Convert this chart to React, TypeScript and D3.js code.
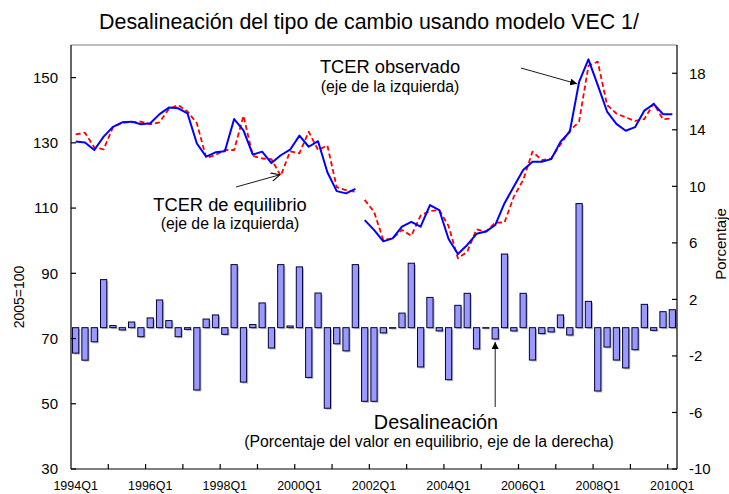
import React, { useEffect, useRef } from "react";
import * as d3 from "d3";

// quarters 1994Q1 .. 2010Q1
const quarters: string[] = d3
  .range(1994, 2011)
  .flatMap((y) => [1, 2, 3, 4].map((q) => `${y}Q${q}`))
  .slice(0, 65);

// TCER observado (left axis, 2005=100)
const observado = [
  130.4, 130.1, 127.8, 131.9, 134.9, 136.3, 136.5, 135.7, 136.0, 138.8,
  140.8, 140.6, 139.0, 129.8, 125.8, 127.1, 127.4, 137.3, 133.8, 126.4,
  127.3, 123.8, 126.2, 127.9, 132.2, 128.8, 130.5, 121.0, 115.2, 114.5,
  115.9, 106.3, 103.3, 99.8, 100.7, 104.3, 105.8, 104.3, 110.9, 109.4,
  100.5, 95.9, 98.7, 102.1, 102.8, 104.8, 111.5, 116.6, 121.7, 124.2,
  124.2, 125.0, 130.3, 133.4, 148.7, 155.6, 147.7, 139.6, 135.8, 133.7,
  134.8, 139.9, 141.9, 138.8, 138.8,
];

// TCER de equilibrio (left axis)
const equilibrio = [
  132.6, 133.1, 128.6, 128.0, 134.8, 136.2, 136.3, 136.5, 135.7, 136.3,
  140.4, 141.6, 139.6, 136.0, 125.4, 126.3, 127.8, 127.8, 138.3, 126.0,
  125.2, 125.0, 119.9, 127.4, 126.8, 133.4, 127.8, 129.2, 116.4, 115.5,
  115.0, 112.5, 108.9, 100.2, 100.7, 103.3, 101.5, 107.7, 109.1, 109.4,
  104.5, 94.6, 96.6, 103.5, 102.8, 105.5, 105.6, 113.5, 118.6, 127.3,
  124.7, 125.2, 129.5, 133.7, 136.5, 153.6, 154.9, 141.6, 139.0, 137.8,
  136.7, 137.3, 142.1, 137.2, 137.5,
];

// Desalineación (right axis, %)
const desalineacion = [
  -1.8, -2.3, -1.0, 3.4, 0.15, -0.16, 0.4, -0.64, 0.69, 1.96,
  0.5, -0.64, -0.12, -4.41, 0.61, 0.9, -0.47, 4.46, -3.85, 0.22,
  1.75, -1.44, 4.46, 0.12, 4.3, -3.52, 2.45, -5.7, -1.14, -1.64,
  4.46, -5.21, -5.21, -0.37, -0.04, 1.03, 4.56, -2.78, 2.14, -0.23,
  -3.68, 1.58, 2.43, -1.5, -0.03, -0.8, 5.21, -0.23, 2.43, -2.29,
  -0.42, -0.3, 0.9, -0.52, 8.78, 1.86, -4.48, -1.37, -2.29, -2.85,
  -1.56, 1.65, -0.19, 1.13, 1.27,
];

const leftTicks = [30, 50, 70, 90, 110, 130, 150];
const rightTicks = [-10, -6, -2, 2, 6, 10, 14, 18];
const xLabelEvery = 8;
const xTickEvery = 4;
const lineBreakAfter = "2001Q3"; // lines are interrupted here in the original

const FONT = "'Liberation Sans', Arial, sans-serif";

const App = () => {
  const svgRef = useRef<SVGSVGElement | null>(null);

  useEffect(() => {
    const width = 729;
    const height = 494;
    const margin = { top: 45, right: 52, bottom: 25, left: 71 };

    const svg = d3.select(svgRef.current);
    svg.selectAll("*").remove();

    const x = d3
      .scaleBand()
      .domain(quarters)
      .range([margin.left, width - margin.right])
      .paddingInner(0.33)
      .paddingOuter(0.165);
    const band = d3.scaleBand().domain(quarters).range([margin.left, width - margin.right]);
    const cx = (q: string) => (band(q) as number) + band.bandwidth() / 2;

    const yL = d3.scaleLinear().domain([30, 160]).range([height - margin.bottom, margin.top]);
    const yR = d3.scaleLinear().domain([-10, 20]).range([height - margin.bottom, margin.top]);

    const x0 = margin.left;
    const x1 = width - margin.right;
    const yTop = margin.top;
    const yBot = height - margin.bottom;

    const defs = svg.append("defs");
    defs
      .append("marker")
      .attr("id", "headFilled")
      .attr("viewBox", "0 0 10 10")
      .attr("refX", 10)
      .attr("refY", 5)
      .attr("markerWidth", 7)
      .attr("markerHeight", 7)
      .attr("markerUnits", "userSpaceOnUse")
      .attr("orient", "auto")
      .append("path")
      .attr("d", "M0,0 L10,5 L0,10 z")
      .attr("fill", "#000");
    defs
      .append("marker")
      .attr("id", "headOpen")
      .attr("viewBox", "0 0 10 10")
      .attr("refX", 10)
      .attr("refY", 5)
      .attr("markerWidth", 9)
      .attr("markerHeight", 9)
      .attr("markerUnits", "userSpaceOnUse")
      .attr("orient", "auto")
      .append("path")
      .attr("d", "M0,0 L10,5 L0,10")
      .attr("fill", "none")
      .attr("stroke", "#000")
      .attr("stroke-width", 1.2);

    // plot frame top (grey)
    svg
      .append("line")
      .attr("x1", x0)
      .attr("x2", x1)
      .attr("y1", yTop)
      .attr("y2", yTop)
      .attr("stroke", "#808080")
      .attr("stroke-width", 1);

    // bars with a soft shadow
    const bars = svg.append("g");
    desalineacion.forEach((v, i) => {
      const q = quarters[i];
      const bx = x(q) as number;
      const by = Math.min(yR(v), yR(0));
      const bh = Math.abs(yR(v) - yR(0));
      bars
        .append("rect")
        .attr("x", bx + 1.5)
        .attr("y", by + 1.5)
        .attr("width", x.bandwidth())
        .attr("height", Math.max(bh, 0.5))
        .attr("fill", "#a0a0a0")
        .attr("opacity", 0.7);
      bars
        .append("rect")
        .attr("x", bx)
        .attr("y", by)
        .attr("width", x.bandwidth())
        .attr("height", Math.max(bh, 0.5))
        .attr("fill", "#9999ff")
        .attr("stroke", "#000033")
        .attr("stroke-width", 1);
    });

    // lines, split where the original line is interrupted
    const cut = quarters.indexOf(lineBreakAfter) + 1;
    const drawLine = (vals: number[], color: string, w: number, dash: string | null) => {
      const pts = vals.map((v, i) => [cx(quarters[i]), yL(v)] as [number, number]);
      const gen = d3.line();
      [pts.slice(0, cut), pts.slice(cut)].forEach((seg) => {
        svg
          .append("path")
          .attr("d", gen(seg))
          .attr("fill", "none")
          .attr("stroke", color)
          .attr("stroke-width", w)
          .attr("stroke-linejoin", "round")
          .attr("stroke-dasharray", dash);
      });
    };
    drawLine(equilibrio, "#ff0000", 1.8, "5,3");
    drawLine(observado, "#0000ff", 2, null);

    // axes lines
    const axisG = svg.append("g").attr("stroke", "#000").attr("stroke-width", 1.2);
    axisG.append("line").attr("x1", x0).attr("x2", x0).attr("y1", yTop).attr("y2", yBot);
    axisG.append("line").attr("x1", x1).attr("x2", x1).attr("y1", yTop).attr("y2", yBot);
    axisG.append("line").attr("x1", x0).attr("x2", x1).attr("y1", yBot).attr("y2", yBot);

    // left ticks
    leftTicks.forEach((t) => {
      axisG.append("line").attr("x1", x0).attr("x2", x0 + 5).attr("y1", yL(t)).attr("y2", yL(t));
      svg
        .append("text")
        .attr("x", x0 - 13)
        .attr("y", yL(t))
        .attr("dy", "0.36em")
        .attr("text-anchor", "end")
        .attr("font-family", FONT)
        .attr("font-size", 15)
        .attr("fill", "#000")
        .text(t);
    });

    // right ticks
    rightTicks.forEach((t) => {
      axisG.append("line").attr("x1", x1).attr("x2", x1 - 5).attr("y1", yR(t)).attr("y2", yR(t));
      svg
        .append("text")
        .attr("x", x1 + 12)
        .attr("y", yR(t))
        .attr("dy", "0.36em")
        .attr("text-anchor", "start")
        .attr("font-family", FONT)
        .attr("font-size", 15)
        .attr("fill", "#000")
        .text(t);
    });

    // x ticks (category boundaries) and labels
    quarters.forEach((q, i) => {
      if (i > 0 && i % xTickEvery === 0) {
        const bx = band(q) as number;
        axisG.append("line").attr("x1", bx).attr("x2", bx).attr("y1", yBot).attr("y2", yBot - 5);
      }
      if (i % xLabelEvery === 0) {
        svg
          .append("text")
          .attr("x", cx(q))
          .attr("y", yBot + 21)
          .attr("text-anchor", "middle")
          .attr("font-family", FONT)
          .attr("font-size", 12.5)
          .attr("fill", "#000")
          .text(q);
      }
    });

    // axis titles
    svg
      .append("text")
      .attr("transform", `translate(24,297) rotate(-90)`)
      .attr("text-anchor", "middle")
      .attr("font-family", FONT)
      .attr("font-size", 14)
      .text("2005=100");
    svg
      .append("text")
      .attr("transform", `translate(726,244) rotate(-90)`)
      .attr("text-anchor", "middle")
      .attr("font-family", FONT)
      .attr("font-size", 15)
      .text("Porcentaje");

    // title
    svg
      .append("text")
      .attr("x", 369)
      .attr("y", 29)
      .attr("text-anchor", "middle")
      .attr("font-family", FONT)
      .attr("font-size", 21.4)
      .text("Desalineación del tipo de cambio usando modelo VEC 1/");

    // annotations
    const label = (
      cxp: number,
      y: number,
      main: string,
      mainSize: number,
      sub: string,
      subDy: number,
      subX: number = cxp
    ) => {
      svg
        .append("text")
        .attr("x", cxp)
        .attr("y", y)
        .attr("text-anchor", "middle")
        .attr("font-family", FONT)
        .attr("font-size", mainSize)
        .text(main);
      svg
        .append("text")
        .attr("x", subX)
        .attr("y", y + subDy)
        .attr("text-anchor", "middle")
        .attr("font-family", FONT)
        .attr("font-size", 15.8)
        .text(sub);
    };
    label(390, 73, "TCER observado", 18.3, "(eje de la izquierda)", 19);
    label(230, 211, "TCER de equilibrio", 18.3, "(eje de la izquierda)", 18);
    label(436, 429, "Desalineación", 19.8, "(Porcentaje del valor en equilibrio,  eje de la derecha)", 17.5, 429);

    const arrow = (xa: number, ya: number, xb: number, yb: number, head: string) => {
      svg
        .append("line")
        .attr("x1", xa)
        .attr("y1", ya)
        .attr("x2", xb)
        .attr("y2", yb)
        .attr("stroke", "#000")
        .attr("stroke-width", 0.9)
        .attr("marker-end", `url(#${head})`);
    };
    const iObs = quarters.indexOf("2007Q3");
    const iEq = quarters.indexOf("1999Q3");
    const iBar = quarters.indexOf("2005Q2");
    arrow(521, 68, cx(quarters[iObs]) - 2, yL(observado[iObs]) + 2, "headFilled");
    arrow(236, 187, cx(quarters[iEq]) - 1, yL(equilibrio[iEq]) - 1, "headOpen");
    arrow(cx(quarters[iBar]), 407, cx(quarters[iBar]), yR(desalineacion[iBar]) + 3, "headFilled");
  }, []);

  return (
    <svg
      ref={svgRef}
      width={729}
      height={494}
      style={{ position: "absolute", left: 0, top: 0, background: "#fff" }}
    />
  );
};

export default App;
